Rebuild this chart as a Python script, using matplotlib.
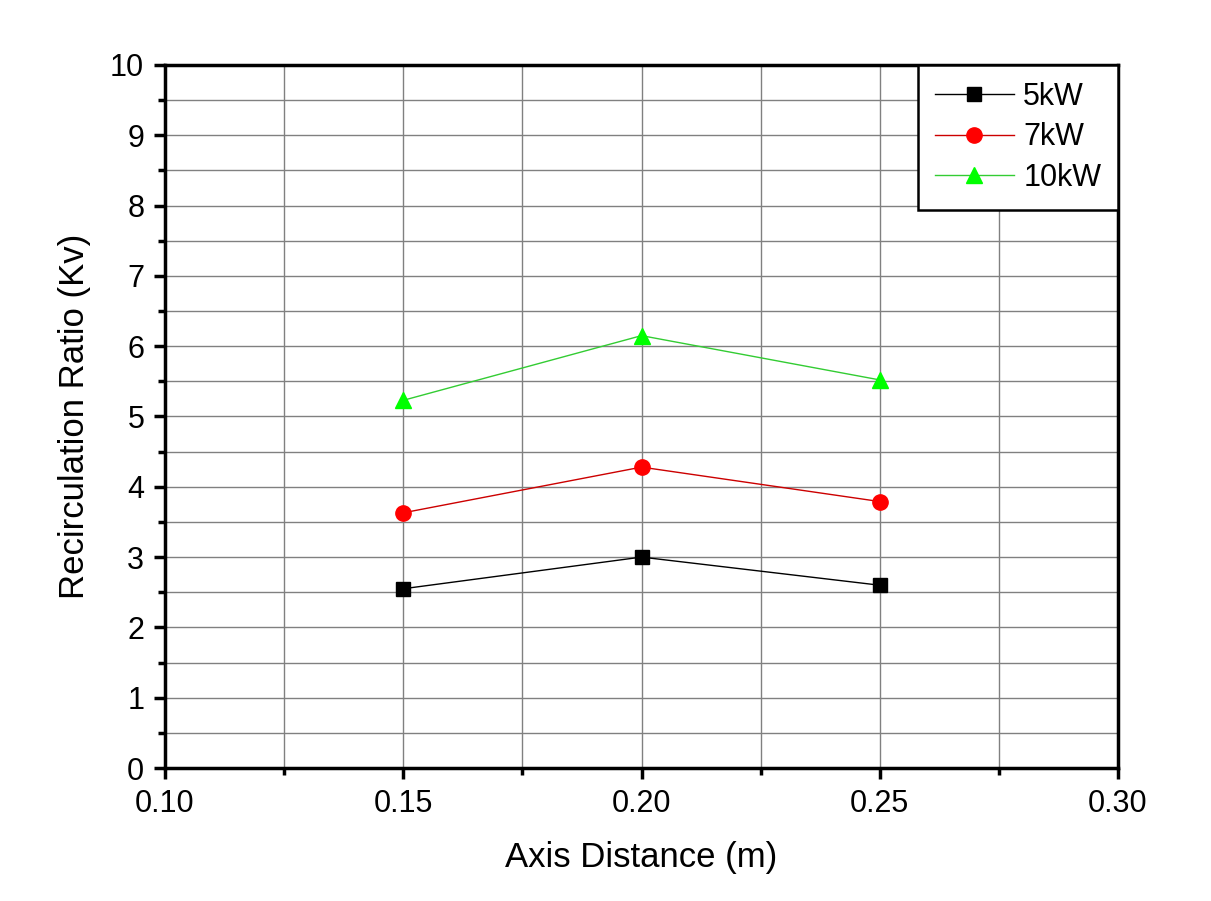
import matplotlib
matplotlib.use("Agg")
import matplotlib.pyplot as plt
from matplotlib.ticker import MultipleLocator

plt.rcParams['font.family'] = ['Liberation Sans', 'DejaVu Sans']

x = [0.15, 0.20, 0.25]
kw5 = [2.55, 3.00, 2.60]
kw7 = [3.63, 4.28, 3.79]
kw10 = [5.23, 6.15, 5.52]
labels = ["5kW", "7kW", "10kW"]

fig = plt.figure(figsize=(12.11, 9.01), dpi=100)
ax = fig.add_axes([0.1363, 0.1476, 0.7869, 0.7803])

ax.plot(x, kw5, color='black', lw=1, marker='s', ms=10, mfc='black', mec='black', label=labels[0], zorder=3)
ax.plot(x, kw7, color='#cc0000', lw=1, marker='o', ms=11, mfc='#ff0000', mec='#ff0000', label=labels[1], zorder=3)
ax.plot(x, kw10, color='#33cc33', lw=1, marker='^', ms=12, mfc='#00ff00', mec='#00ff00', label=labels[2], zorder=3)

ax.set_xlim(0.10, 0.30)
ax.set_ylim(0, 10)
ax.xaxis.set_major_locator(MultipleLocator(0.05))
ax.xaxis.set_minor_locator(MultipleLocator(0.025))
ax.yaxis.set_major_locator(MultipleLocator(1))
ax.yaxis.set_minor_locator(MultipleLocator(0.5))
ax.xaxis.set_major_formatter(plt.FuncFormatter(lambda v, p: f"{v:.2f}"))
ax.grid(True, which='both', color='#808080', lw=1)
ax.set_axisbelow(True)

for s in ax.spines.values():
    s.set_linewidth(2.5)
ax.tick_params(which='major', direction='out', length=8, width=2.5, labelsize=22, pad=7)
ax.tick_params(which='minor', direction='out', length=5, width=2.5)

ax.set_xlabel("Axis Distance (m)", fontsize=25, labelpad=16)
ax.set_ylabel("Recirculation Ratio (Kv)", fontsize=25, labelpad=14)

leg = ax.legend(loc='upper right', fontsize=22, frameon=True, fancybox=False,
                borderaxespad=0, edgecolor='black', framealpha=1,
                handlelength=2.6, handletextpad=0.3, markerfirst=True,
                labelspacing=0.35, borderpad=0.55)
leg.get_frame().set_linewidth(1.8)

fig.savefig("out.png", dpi=100)
